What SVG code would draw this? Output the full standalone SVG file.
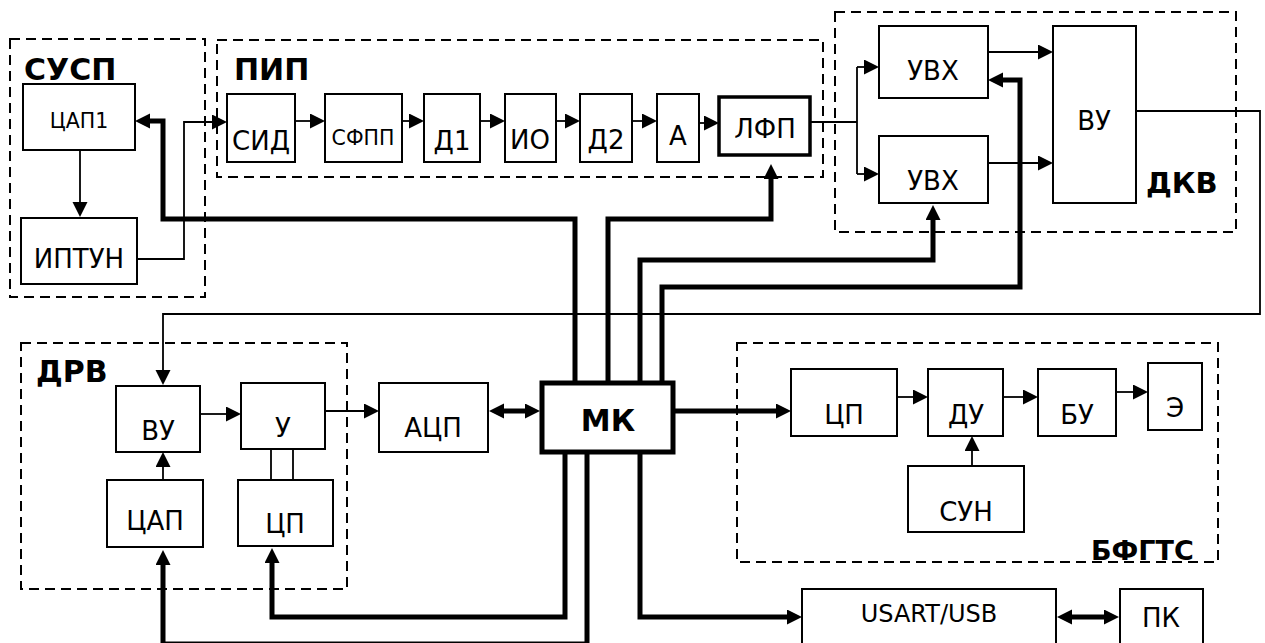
<svg xmlns="http://www.w3.org/2000/svg" width="1265" height="643" viewBox="0 0 1265 643">
<style>
.bg{fill:#fff}
.box{fill:#fff;stroke:#000;stroke-width:2}
.grp{fill:none;stroke:#000;stroke-width:2;stroke-dasharray:10,6}
.t{font-family:"DejaVu Sans","Verdana",sans-serif;font-size:26px;fill:#000;text-anchor:middle}
.s{font-size:20.5px}
.u{font-size:24px}
.b{font-family:"DejaVu Sans","Verdana",sans-serif;font-weight:bold;font-size:30px;fill:#000}
.thin{fill:none;stroke:#000;stroke-width:1.8}
.thick{fill:none;stroke:#000;stroke-width:5;stroke-linejoin:miter}
.arr{marker-end:url(#ah)}
</style>
<defs>
<marker id="ah" markerUnits="userSpaceOnUse" markerWidth="16" markerHeight="16" refX="1" refY="7.5" orient="auto-start-reverse">
<path d="M0,0 L15,7.5 L0,15 z" fill="#000"/>
</marker>
</defs>
<rect class="bg" x="0" y="0" width="1265" height="643"/>

<g id="groups">
<rect class="grp" x="10" y="39" width="195" height="258"/>
<rect class="grp" x="217" y="40" width="606" height="137"/>
<rect class="grp" x="835" y="12" width="401" height="220"/>
<rect class="grp" x="21" y="343" width="326" height="246"/>
<rect class="grp" x="737" y="343" width="481" height="219"/>
<text class="b" x="24" y="80">СУСП</text>
<text class="b" x="234" y="80">ПИП</text>
<text class="b" x="1146" y="193" style="font-size:29px">ДКВ</text>
<text class="b" x="36" y="382">ДРВ</text>
<text class="b" x="1091" y="560" style="font-size:27px">БФГТС</text>
</g>

<g id="connectors">
<path class="thin arr" d="M80,150 V203"/>
<path class="thin arr" d="M137,259 H184 V122 H213"/>
<path class="thin arr" d="M295,121 H311"/>
<path class="thin arr" d="M402,121 H410"/>
<path class="thin arr" d="M480,121 H491"/>
<path class="thin arr" d="M556,121 H566"/>
<path class="thin arr" d="M632,121 H643"/>
<path class="thin arr" d="M699,123 H705"/>
<path class="thin" d="M810,122 H857 M857,67 V174"/>
<path class="thin arr" d="M857,67 H865"/>
<path class="thin arr" d="M857,174 H865"/>
<path class="thin arr" d="M988,52 H1039"/>
<path class="thin arr" d="M988,163 H1039"/>
<path class="thin arr" d="M1136,111 H1260 V314 H163 V371"/>
<path class="thin arr" d="M200,414 H227"/>
<path class="thin arr" d="M325,411 H365"/>
<path class="thin arr" d="M163,480 V466"/>
<path class="thin" d="M271,449 V480 M293,449 V480"/>
<path class="thin arr" d="M897,397 H914"/>
<path class="thin arr" d="M1003,397 H1024"/>
<path class="thin arr" d="M1116,392 H1134"/>
<path class="thin arr" d="M972,466 V450"/>

<path class="thick arr" d="M575,383 V219 H163 V121 H149"/>
<path class="thick arr" d="M608,383 V219 H771 V178"/>
<path class="thick arr" d="M640,383 V260 H933 V219"/>
<path class="thick arr" d="M662,383 V287 H1020 V80 H1002"/>
<path class="thick arr" style="marker-start:url(#ah)" d="M503,411 H526"/>
<path class="thick arr" d="M673,411 H777"/>
<path class="thick arr" d="M565,452 V617 H272 V562"/>
<path class="thick arr" d="M587,452 V644 H163 V564"/>
<path class="thick arr" d="M640,452 V617 H788"/>
<path class="thick arr" style="marker-start:url(#ah)" d="M1071,617 H1105"/>
</g>

<g id="n-tsap1"><rect class="box" x="23" y="84" width="112" height="66"/><text class="t s" x="79" y="128">ЦАП1</text></g>
<g id="n-iptun"><rect class="box" x="21" y="218" width="116" height="66"/><text class="t" x="79" y="268">ИПТУН</text></g>
<g id="n-sid"><rect class="box" x="227" y="94" width="68" height="68"/><text class="t" x="261" y="150">СИД</text></g>
<g id="n-sfpp"><rect class="box" x="325" y="94" width="77" height="68"/><text class="t s" x="363" y="145">СФПП</text></g>
<g id="n-d1"><rect class="box" x="424" y="94" width="56" height="68"/><text class="t" x="452" y="150">Д1</text></g>
<g id="n-io"><rect class="box" x="505" y="94" width="51" height="68"/><text class="t" x="530" y="149">ИО</text></g>
<g id="n-d2"><rect class="box" x="580" y="94" width="52" height="68"/><text class="t" x="606" y="149">Д2</text></g>
<g id="n-a"><rect class="box" x="657" y="94" width="42" height="68"/><text class="t" x="678" y="145">А</text></g>
<g id="n-lfp"><rect class="box" x="719" y="97" width="91" height="58" style="stroke-width:3.5"/><text class="t" x="765" y="138">ЛФП</text></g>
<g id="n-uvh1"><rect class="box" x="879" y="26" width="109" height="72"/><text class="t" x="933" y="80">УВХ</text></g>
<g id="n-uvh2"><rect class="box" x="879" y="136" width="109" height="67"/><text class="t" x="933" y="190">УВХ</text></g>
<g id="n-vu1"><rect class="box" x="1053" y="26" width="83" height="177"/><text class="t" x="1094" y="130">ВУ</text></g>
<g id="n-mk"><rect class="box" x="542" y="383" width="131" height="69" style="stroke-width:5"/><text class="t" x="608" y="431" style="font-weight:bold;font-size:30px">МК</text></g>
<g id="n-adc"><rect class="box" x="379" y="383" width="109" height="69"/><text class="t" x="433" y="437">АЦП</text></g>
<g id="n-vu2"><rect class="box" x="116" y="386" width="84" height="66"/><text class="t" x="158" y="440">ВУ</text></g>
<g id="n-u"><rect class="box" x="241" y="383" width="84" height="66"/><text class="t" x="283" y="437">У</text></g>
<g id="n-tsap"><rect class="box" x="107" y="480" width="96" height="67"/><text class="t" x="155" y="530">ЦАП</text></g>
<g id="n-tsp1"><rect class="box" x="238" y="480" width="95" height="66"/><text class="t" x="285" y="533">ЦП</text></g>
<g id="n-tsp2"><rect class="box" x="791" y="369" width="106" height="67"/><text class="t" x="844" y="424">ЦП</text></g>
<g id="n-du"><rect class="box" x="928" y="369" width="75" height="67"/><text class="t" x="966" y="424">ДУ</text></g>
<g id="n-bu"><rect class="box" x="1038" y="369" width="78" height="67"/><text class="t" x="1077" y="424">БУ</text></g>
<g id="n-e"><rect class="box" x="1148" y="363" width="54" height="67"/><text class="t" x="1175" y="417">Э</text></g>
<g id="n-sun"><rect class="box" x="908" y="466" width="116" height="66"/><text class="t" x="966" y="521">СУН</text></g>
<g id="n-usart"><rect class="box" x="802" y="589" width="254" height="70"/><text class="t u" x="929" y="622">USART/USB</text></g>
<g id="n-pk"><rect class="box" x="1120" y="589" width="83" height="70"/><text class="t" x="1161" y="627">ПК</text></g>
</svg>
